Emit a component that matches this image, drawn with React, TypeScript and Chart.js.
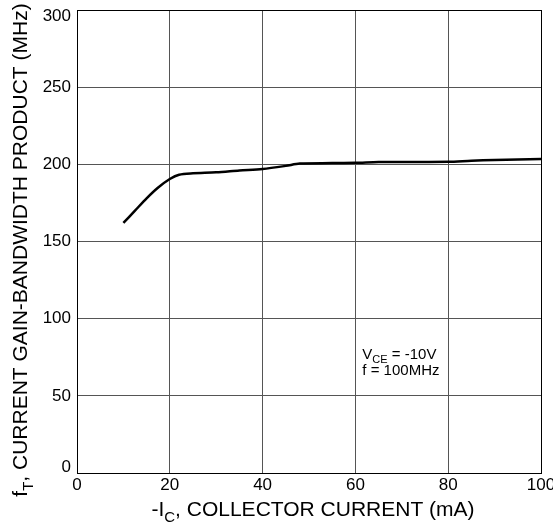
import React, { useEffect, useRef } from "react";
import { Chart, registerables } from "chart.js";

Chart.register(...registerables);

const currentMA = [10, 12.5, 15, 17.5, 20, 22, 25, 30, 35, 40, 45, 48, 55, 60, 65, 70, 80, 85, 90, 100];
const ftMHz = [162, 170, 178, 185, 190.5, 193.3, 194.2, 194.8, 196, 197, 199, 200.5, 200.8, 201, 201.5, 201.5, 201.6, 202.3, 202.8, 203.5];

const xMin = 0;
const xMax = 100;
const xStep = 20;
const yMin = 0;
const yMax = 300;
const yStep = 50;

const yTitleParts = [
  { text: "f", sub: false },
  { text: "T", sub: true },
  { text: ", CURRENT GAIN-BANDWIDTH PRODUCT (MHz)", sub: false },
];
const xTitleParts = [
  { text: "-I", sub: false },
  { text: "C", sub: true },
  { text: ", COLLECTOR CURRENT (mA)", sub: false },
];
const noteLine1 = [
  { text: "V", sub: false },
  { text: "CE", sub: true },
  { text: " = -10V", sub: false },
];
const noteLine2 = [{ text: "f = 100MHz", sub: false }];

const FONT = "'Liberation Sans', Arial, Helvetica, sans-serif";

type Part = { text: string; sub: boolean };

function drawRich(
  ctx: CanvasRenderingContext2D,
  parts: Part[],
  x: number,
  y: number,
  size: number,
  align: "center" | "left"
) {
  const subSize = Math.round(size * 0.72);
  let total = 0;
  const widths = parts.map((p) => {
    ctx.font = `${p.sub ? subSize : size}px ${FONT}`;
    const w = ctx.measureText(p.text).width;
    total += w;
    return w;
  });
  let cx = align === "center" ? x - total / 2 : x;
  ctx.textAlign = "left";
  ctx.textBaseline = "alphabetic";
  parts.forEach((p, i) => {
    ctx.font = `${p.sub ? subSize : size}px ${FONT}`;
    ctx.fillText(p.text, cx, p.sub ? y + size * 0.28 : y);
    cx += widths[i];
  });
}

const overlayPlugin = {
  id: "overlay",
  afterDraw(chart: any) {
    const { ctx, chartArea } = chart;
    const xs = chart.scales.x;
    const ys = chart.scales.y;
    ctx.save();
    ctx.strokeStyle = "#000";
    ctx.lineWidth = 1;
    ctx.strokeRect(
      Math.round(chartArea.left) + 0.5,
      Math.round(chartArea.top) + 0.5,
      Math.round(chartArea.right - chartArea.left),
      Math.round(chartArea.bottom - chartArea.top)
    );
    ctx.fillStyle = "#000";
    // y tick labels (kept inside the plot's vertical span, as in the original)
    ctx.font = `17px ${FONT}`;
    ctx.textAlign = "right";
    ctx.textBaseline = "middle";
    ys.ticks.forEach((t: any) => {
      let py = ys.getPixelForValue(t.value);
      py = Math.max(chartArea.top + 6, Math.min(chartArea.bottom - 6, py));
      ctx.fillText(String(t.value), chartArea.left - 6, py);
    });
    // x title
    drawRich(ctx, xTitleParts, 313, 516, 21, "center");
    // y title
    ctx.save();
    ctx.translate(27, 250);
    ctx.rotate(-Math.PI / 2);
    drawRich(ctx, yTitleParts, 0, 0, 21, "center");
    ctx.restore();
    // annotation
    const ax = xs.getPixelForValue(61.5);
    drawRich(ctx, noteLine1, ax, 359, 15, "left");
    drawRich(ctx, noteLine2, ax, 375, 15, "left");
    ctx.restore();
  },
};

export default function App() {
  const ref = useRef<HTMLCanvasElement | null>(null);
  useEffect(() => {
    if (!ref.current) return;
    const chart = new Chart(ref.current, {
      type: "line",
      data: {
        datasets: [
          {
            data: currentMA.map((x, i) => ({ x, y: ftMHz[i] })),
            borderColor: "#000",
            borderWidth: 2.5,
            pointRadius: 0,
            tension: 0.3,
            fill: false,
          },
        ],
      },
      options: {
        animation: false,
        responsive: true,
        maintainAspectRatio: false,
        layout: { padding: { top: 10, right: 12, left: 0, bottom: 0 } },
        plugins: { legend: { display: false }, tooltip: { enabled: false } },
        scales: {
          x: {
            type: "linear",
            min: xMin,
            max: xMax,
            ticks: {
              stepSize: xStep,
              color: "#000",
              font: { family: FONT, size: 17 },
              padding: 2,
              maxRotation: 0,
            },
            grid: { color: "#555", lineWidth: 1, drawTicks: false },
            border: { color: "#000", width: 1 },
            afterFit: (s: any) => {
              s.height = 49;
              s.paddingLeft = 0;
              s.paddingRight = 0;
            },
          },
          y: {
            min: yMin,
            max: yMax,
            ticks: {
              stepSize: yStep,
              color: "rgba(0,0,0,0)",
              font: { family: FONT, size: 17 },
              padding: 6,
            },
            grid: { color: "#555", lineWidth: 1, drawTicks: false },
            border: { color: "#000", width: 1 },
            afterFit: (s: any) => {
              s.width = 77;
              s.paddingTop = 0;
              s.paddingBottom = 0;
            },
          },
        },
      },
      plugins: [overlayPlugin],
    });
    return () => chart.destroy();
  }, []);
  return (
    <div style={{ position: "fixed", left: 0, top: 0, width: 553, height: 522, background: "#fff" }}>
      <canvas ref={ref} />
    </div>
  );
}
